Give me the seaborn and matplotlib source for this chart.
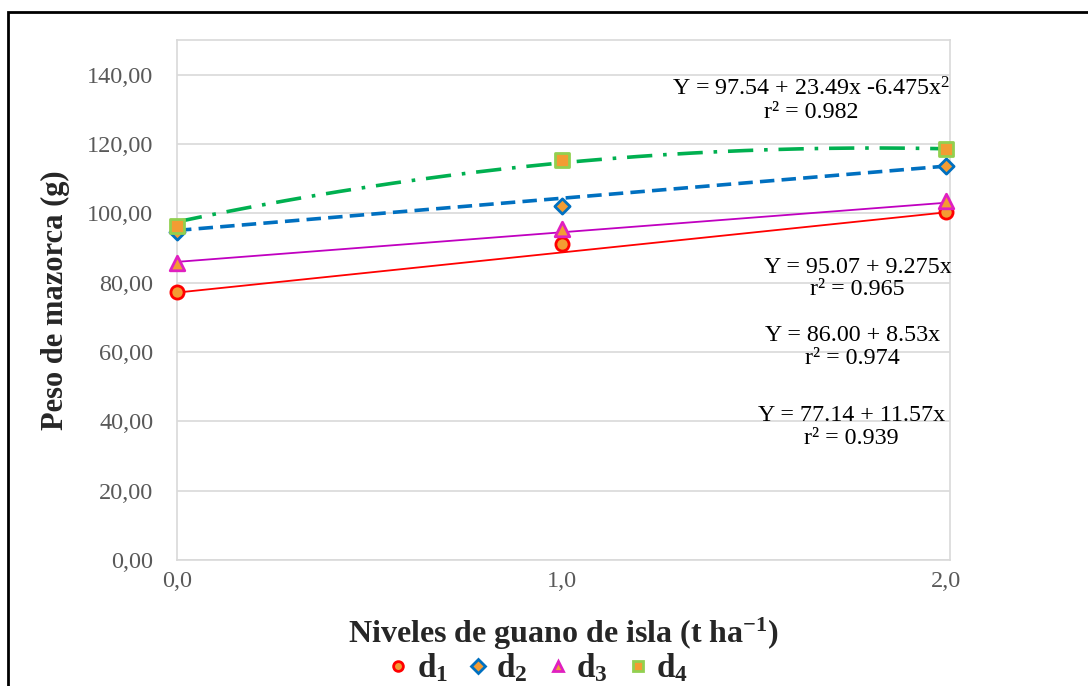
import numpy as np
import pandas as pd
import matplotlib
matplotlib.use("Agg")
import matplotlib.pyplot as plt
import seaborn as sns
from matplotlib.lines import Line2D
from matplotlib.patches import Rectangle

# ---- data ----
niveles = [0.0, 1.0, 2.0]
d1 = [77.4, 91.2, 100.5]
d2 = [94.5, 102.2, 113.7]
d3 = [85.7, 95.5, 103.6]
d4 = [96.4, 115.5, 118.6]
series_names = ["d1", "d2", "d3", "d4"]
# trend-line coefficients (c0, c1, c2) as printed on the chart
coef_d1 = [77.14, 11.57, 0.0]
coef_d2 = [95.07, 9.275, 0.0]
coef_d3 = [86.00, 8.53, 0.0]
coef_d4 = [97.54, 23.49, -6.475]
eq_labels = [
    "Y = 77.14 + 11.57x\nr² = 0.939",
    "Y = 95.07 + 9.275x\nr² = 0.965",
    "Y = 86.00 + 8.53x\nr² = 0.974",
    "Y = 97.54 + 23.49x -6.475x$^2$\nr² = 0.982",
]
x_ticks = [0, 1, 2]
x_ticklabels = ["0,0", "1,0", "2,0"]
y_ticks = [0, 20, 40, 60, 80, 100, 120, 140]
y_ticklabels = ["0,00", "20,00", "40,00", "60,00", "80,00", "100,00", "120,00", "140,00"]

sns.set_theme(style="white")
plt.rcParams['font.family'] = ['Liberation Serif', 'DejaVu Serif']
plt.rcParams['mathtext.fontset'] = 'custom'
plt.rcParams['mathtext.rm'] = 'Liberation Serif'
plt.rcParams['mathtext.it'] = 'Liberation Serif:italic'
plt.rcParams['mathtext.bf'] = 'Liberation Serif:bold'

fig = plt.figure(figsize=(10.88, 6.86), dpi=100)
ax = fig.add_axes([177/1088, 1-560/686, (950-177)/1088, (560-40)/686])

orange = "#F39C33"
styles = {
    "d1": dict(color="#FF0000", lw=1.3, ls="-", marker="o", edge="#FF0000", ms=90),
    "d2": dict(color="#0070C0", lw=2.6, ls=(0, (4, 2)), marker="D", edge="#0070C0", ms=60),
    "d3": dict(color="#C000C0", lw=1.3, ls="-", marker="^", edge="#E020C0", ms=110),
    "d4": dict(color="#00B050", lw=2.6, ls=(0, (7, 3, 1, 3)), marker="s", edge="#92D050", ms=110),
}
data = {"d1": d1, "d2": d2, "d3": d3, "d4": d4}
coefs = {"d1": coef_d1, "d2": coef_d2, "d3": coef_d3, "d4": coef_d4}

xs = np.linspace(0, 2, 200)
for name in series_names:
    st = styles[name]
    c = coefs[name]
    ys = c[0] + c[1] * xs + c[2] * xs ** 2
    sns.lineplot(x=xs, y=ys, ax=ax, color=st["color"], lw=st["lw"], linestyle=st["ls"], zorder=2)
for name in series_names:
    st = styles[name]
    df = pd.DataFrame({"x": niveles, "y": data[name]})
    sns.scatterplot(data=df, x="x", y="y", ax=ax, marker=st["marker"], s=st["ms"],
                    color=orange, edgecolor=st["edge"], linewidth=2.0, zorder=3, clip_on=False)

ax.set_xlim(0, 2.0104)
ax.set_ylim(0, 150)
ax.set_xticks(x_ticks)
ax.set_xticklabels(x_ticklabels)
ax.set_yticks(y_ticks)
ax.set_yticklabels(y_ticklabels)
ax.tick_params(axis='both', labelsize=17.5, labelcolor="#595959", length=0)
ax.tick_params(axis='x', pad=8)
ax.tick_params(axis='y', pad=17)
ax.grid(axis='y', color="#D9D9D9", lw=1.2)
ax.set_axisbelow(True)
for sp in ax.spines.values():
    sp.set_color("#D9D9D9")
    sp.set_linewidth(1.2)

ax.set_xlabel("Niveles de guano de isla (t ha$^{\\mathbf{-1}}$)", fontsize=23, fontweight='bold', labelpad=17)
ax.set_ylabel("Peso de mazorca (g)", fontsize=22, fontweight='bold', labelpad=12)

# equation annotations
ann_pos = [(1.754, 38.3), (1.77, 81.2), (1.757, 61.4), (1.65, 132.7)]
for (px, py), txt in zip(ann_pos, eq_labels):
    ax.text(px, py, txt, ha='center', va='center', fontsize=17.3, color="black",
            linespacing=1.1)

# legend
handles = []
for name in series_names:
    st = styles[name]
    handles.append(Line2D([], [], ls='none', marker=st["marker"], markersize=7,
                          markerfacecolor=orange, markeredgecolor=st["edge"], markeredgewidth=2))
labels = [r"$\mathbf{d}_\mathbf{1}$", r"$\mathbf{d}_\mathbf{2}$", r"$\mathbf{d}_\mathbf{3}$", r"$\mathbf{d}_\mathbf{4}$"]
fig.legend(handles, labels, loc='center', bbox_to_anchor=(535/1088, 1-668/686), ncol=4,
           frameon=False, fontsize=24, handletextpad=0.05, columnspacing=0.4, handlelength=1.0)

# outer frame
fig.patches.append(Rectangle((8/1088, -0.1), 1.2, 1 - 12/686 + 0.1, transform=fig.transFigure,
                             fill=False, edgecolor="black", lw=2, clip_on=False))

fig.savefig("out.png", dpi=100)
